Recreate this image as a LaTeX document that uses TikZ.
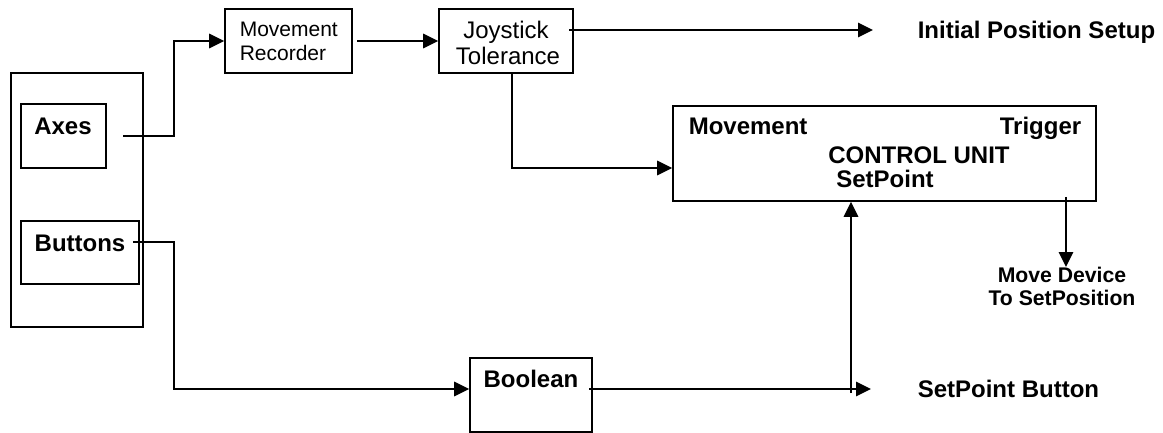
\documentclass[tikz,border=0pt]{standalone}
\usepackage{fontspec}
\setmainfont{Liberation Sans}
\usetikzlibrary{arrows.meta}

\begin{document}
\begin{tikzpicture}[
  x=0.5pt, y=-0.5pt,
  line width=0.8pt,
  box/.style={draw, line width=0.8pt, inner sep=0pt, rectangle},
  lbl/.style={inner sep=0pt, font=\fontsize{12}{14}\selectfont\bfseries},
  plain/.style={inner sep=0pt, font=\fontsize{12}{14}\selectfont},
  small/.style={inner sep=0pt, font=\fontsize{10.5}{12}\selectfont},
  note/.style={inner sep=0pt, font=\fontsize{10.6}{12}\selectfont\bfseries},
  arr/.style={-{Triangle[length=7.5pt,width=7.2pt]}, line width=0.8pt}
]
\useasboundingbox (0,0) rectangle (1163,433);

% input group with its two sub-blocks
\node[box, minimum width=66pt,  minimum height=127pt] (input)   at (77,200) {};
\node[box, minimum width=42.5pt,minimum height=32pt]  (axes)    at (63.5,136) {};
\node[box, minimum width=59pt,  minimum height=31.5pt](buttons) at (80,252.5) {};
\node[lbl, anchor=base] (axesT)    at (63,134) {Axes};
\node[lbl, anchor=base] (buttonsT) at (80,251) {Buttons};

% processing blocks
\node[box, minimum width=63.5pt, minimum height=32pt] (mr) at (288.5,41) {};
\node[small, anchor=base west] (mrT1) at (239,37) {Movement};
\node[small, anchor=base west] (mrT2) at (239,61) {Recorder};

\node[box, minimum width=67pt, minimum height=32pt] (jt) at (506,41) {};
\node[plain, anchor=base] (jtT1) at (506,39) {Joystick};
\node[plain, anchor=base] (jtT2) at (508,65) {Tolerance};

\node[box, minimum width=211.5pt, minimum height=47.5pt] (cu) at (884.5,153.5) {};
\node[lbl, anchor=base west] (cuMove) at (688,135)  {Movement};
\node[lbl, anchor=base east] (cuTrig) at (1082,135) {Trigger};
\node[lbl, anchor=base]      (cuName) at (919,163)  {CONTROL UNIT};
\node[lbl, anchor=base]      (cuSet)  at (885,188)  {SetPoint};

\node[box, minimum width=61pt, minimum height=37pt] (bool) at (531,395) {};
\node[lbl, anchor=base] (boolT) at (531,387) {Boolean};

% output labels
\node[lbl, anchor=base west] (init)   at (917,38.5)  {Initial Position Setup};
\node[lbl, anchor=base west] (spbtn)  at (917,397.5) {SetPoint Button};
\node[note, anchor=base] (moveT1) at (1062,282) {Move Device};
\node[note, anchor=base] (moveT2) at (1062,305) {To SetPosition};

% connector end points
\coordinate (axout)   at (123,136);
\coordinate (mrout)   at (357,41);
\coordinate (jtdown)  at (512,73);
\coordinate (jtout)   at (569,30);
\coordinate (initend) at (873,30);
\coordinate (btnout)  at (133,242);
\coordinate (boolout) at (589,389);
\coordinate (spend)   at (871,389);
\coordinate (spup)    at (851,393);
\coordinate (trigout) at (1066,197);
\coordinate (moveend) at (1066,267);

% connectors
\draw[arr] (axout) -- (174,136) |- (mr.west);
\draw[arr] (mrout) -- (jt.west);
\draw[arr] (jtdown) |- ([yshift=-7.25pt]cu.west);
\draw[arr] (jtout) -- (initend);
\draw[arr] (btnout) -- (174,242) |- ([yshift=3pt]bool.west);
\draw[arr] (boolout) -- (spend);
\draw[arr] (spup) -- (cu.south -| spup);
\draw[arr] (trigout) -- (moveend);
\end{tikzpicture}
\end{document}
